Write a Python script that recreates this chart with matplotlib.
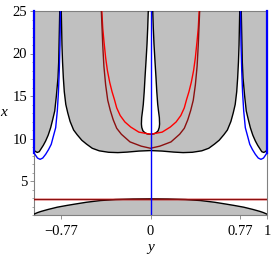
import numpy as np
import matplotlib
matplotlib.use("Agg")
import matplotlib.pyplot as plt

# ---- data (y = horizontal, x = vertical) ----
# symmetric curves given as (|y|, x) for the right half
bowl_y = [0.00, 0.10, 0.20, 0.28, 0.36, 0.44, 0.50, 0.55, 0.59, 0.63, 0.66, 0.69, 0.71, 0.727, 0.740, 0.748, 0.755, 0.760, 0.763, 0.766]
bowl_x = [8.58, 8.52, 8.40, 8.34, 8.38, 8.55, 8.85, 9.35, 9.80, 10.45, 11.0, 12.0, 13.0, 14.0, 15.5, 17.1, 19.0, 21.0, 23.0, 25.0]

corner_y = [1.000, 0.985, 0.972, 0.955, 0.942, 0.920, 0.900, 0.878, 0.857, 0.840, 0.822, 0.808, 0.794, 0.788, 0.785, 0.782, 0.779]
corner_x = [8.60, 8.45, 8.36, 8.45, 8.73, 9.20, 9.71, 10.4, 11.27, 12.2, 13.24, 15.0, 17.15, 19.0, 21.08, 23.0, 25.0]

blue_y = [1.000, 0.985, 0.970, 0.948, 0.925, 0.900, 0.875, 0.852, 0.835, 0.814, 0.800, 0.790, 0.783, 0.777, 0.773]
blue_x = [8.30, 8.00, 7.70, 7.55, 7.70, 8.14, 8.70, 9.32, 10.2, 11.27, 13.24, 15.5, 18.0, 21.0, 25.0]

tube_y = [0.000, 0.030, 0.050, 0.065, 0.075, 0.078, 0.076, 0.068, 0.062, 0.054, 0.047, 0.038, 0.030, 0.024, 0.019]
tube_x = [10.5, 10.55, 10.7, 10.9, 11.3, 11.7, 12.45, 13.3, 14.0, 15.5, 17.2, 19.2, 21.1, 23.0, 25.0]

red_y = [0.00, 0.10, 0.17, 0.22, 0.26, 0.29, 0.31, 0.33, 0.35, 0.37, 0.385, 0.40, 0.41, 0.418]
red_x = [10.5, 10.75, 11.35, 11.95, 12.7, 13.6, 14.6, 15.5, 16.6, 18.0, 19.5, 21.5, 23.0, 25.0]

dred_y = [0.00, 0.08, 0.176, 0.25, 0.29, 0.32, 0.345, 0.367, 0.385, 0.40, 0.41, 0.416, 0.422]
dred_x = [8.85, 9.1, 9.6, 10.5, 11.2, 12.2, 13.3, 14.5, 16.3, 18.5, 21.0, 23.0, 25.0]

arch_y = [0.00, 0.15, 0.30, 0.43, 0.55, 0.65, 0.72, 0.80, 0.88, 0.94, 0.97, 1.00]
arch_x = [2.90, 2.88, 2.82, 2.70, 2.50, 2.28, 2.12, 1.92, 1.65, 1.42, 1.28, 1.10]

red_level = 2.92
dred_level = 2.88

xtick_vals = [-0.77, 0, 0.77, 1]
xtick_labels = ["\u22120.77", "0", "0.77", "1"]
ytick_vals = [5, 10, 15, 20, 25]

GRAY = "#c0c0c0"
BLUE = "#0000ff"
RED = "#ff0000"
DRED = "#8b1010"


def sym(ys, xs):
    """Full symmetric curve from right-half samples, ordered left to right."""
    ys = np.asarray(ys, float)
    xs = np.asarray(xs, float)
    yl = -ys[::-1]
    xl = xs[::-1]
    if ys[0] == 0:
        return np.concatenate([yl, ys[1:]]), np.concatenate([xl, xs[1:]])
    return np.concatenate([yl, ys]), np.concatenate([xl, xs])


plt.rcParams["font.family"] = ["Liberation Serif", "DejaVu Serif"]
fig = plt.figure(figsize=(2.73, 2.59), dpi=100)
ax = fig.add_axes([34 / 273, 44 / 259, 233 / 273, 204 / 259])
ax.set_xlim(-1, 1)
ax.set_ylim(1, 25)

# --- fills ---
by, bx = sym(bowl_y, bowl_x)
ax.fill(by, bx, color=GRAY, lw=0, zorder=1)
ty, tx = sym(tube_y, tube_x)
ax.fill(ty, tx, color="white", lw=0, zorder=1.5)

cy = np.asarray(corner_y)
cx = np.asarray(corner_x)
ax.fill(np.concatenate([cy, [1.0]]), np.concatenate([cx, [25]]), color=GRAY, lw=0, zorder=1)
ax.fill(np.concatenate([-cy, [-1.0]]), np.concatenate([cx, [25]]), color=GRAY, lw=0, zorder=1)

ay, axx = sym(arch_y, arch_x)
ax.fill(np.concatenate([ay, [1, -1]]), np.concatenate([axx, [1, 1]]), color=GRAY, lw=0, zorder=1)

lw = 1.0
# --- black curves ---
ax.plot(by, bx, color="black", lw=lw, zorder=3)
ax.plot(ty, tx, color="black", lw=lw, zorder=3)
ax.plot(cy, cx, color="black", lw=lw, zorder=3)
ax.plot(-cy, cx, color="black", lw=lw, zorder=3)
ax.plot(ay, axx, color="black", lw=lw, zorder=3)

# --- red curves ---
ry, rx = sym(red_y, red_x)
ax.plot(ry, rx, color=RED, lw=lw, zorder=4)
dy, dx = sym(dred_y, dred_x)
ax.plot(dy, dx, color=DRED, lw=lw, zorder=4)
ax.plot([-1, 1], [red_level, red_level], color=RED, lw=lw, zorder=4)
ax.plot([-1, 1], [dred_level, dred_level], color=DRED, lw=lw, zorder=4.1)

# --- blue curves ---
bly = np.asarray(blue_y)
blx = np.asarray(blue_x)
for s in (1, -1):
    ax.plot(s * bly, blx, color=BLUE, lw=lw, zorder=5)
    ax.plot([s * 1.0, s * 1.0], [blue_x[0], 25], color=BLUE, lw=1.6, zorder=5, clip_on=False)
ax.plot([0, 0], [1, 25], color=BLUE, lw=lw, zorder=5)

# --- axes styling ---
for sp in ax.spines.values():
    sp.set_color("#808080")
    sp.set_linewidth(0.8)
ax.set_xticks(xtick_vals)
ax.set_xticklabels(xtick_labels)
ax.set_yticks(ytick_vals)
ax.set_yticks(np.arange(1, 26, 1), minor=True)
ax.tick_params(axis="both", which="major", length=3, width=0.6, color="#808080",
               labelsize=10.5, pad=2)
ax.tick_params(axis="x", which="major", pad=4)
ax.tick_params(axis="y", which="minor", length=1.5, width=0.5, color="#808080")
ax.set_xlabel("y", fontstyle="italic", fontsize=11, labelpad=2)
ax.set_ylabel("x", fontstyle="italic", fontsize=11, rotation=0, labelpad=6, va="center")

fig.savefig("out.png", dpi=100)
